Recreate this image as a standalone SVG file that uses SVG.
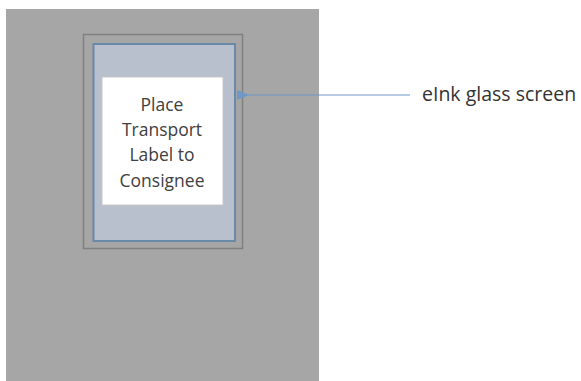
<svg xmlns="http://www.w3.org/2000/svg" width="581" height="381" viewBox="0 0 581 381">
<style>
.lbl{font-family:"Open Sans","Liberation Sans",sans-serif;font-size:17.5px;fill:#404040;text-anchor:middle}
.side{font-family:"Open Sans","Liberation Sans",sans-serif;font-size:19.5px;fill:#333333}
</style>
<defs>
<marker id="ah" viewBox="0 0 12 10" refX="1" refY="5" markerWidth="12" markerHeight="10" markerUnits="userSpaceOnUse" orient="auto">
<path d="M12,0 L0,5 L12,10 z" fill="#6f97c8"/>
</marker>
</defs>
<rect width="581" height="381" fill="#ffffff"/>
<g id="device">
<rect x="6" y="9" width="313" height="380" fill="#a6a6a6"/>
</g>
<g id="frame">
<rect x="83.5" y="34.5" width="159" height="214" fill="#a6a6a6" stroke="#808080" stroke-width="1.5"/>
</g>
<g id="screen">
<rect x="93.5" y="44" width="141.5" height="197" fill="#b8c0cd" stroke="#6a88a8" stroke-width="2"/>
</g>
<g id="label">
<rect x="102" y="77" width="121" height="128" fill="#ffffff" stroke="#c8c8c8" stroke-width="1"/>
<text class="lbl" x="162" y="111">Place</text>
<text class="lbl" x="162" y="136">Transport</text>
<text class="lbl" x="162" y="161">Label to</text>
<text class="lbl" x="162" y="187">Consignee</text>
</g>
<g id="connectors">
<line x1="410" y1="95" x2="248" y2="95" stroke="#6f97c8" stroke-width="1" marker-end="url(#ah)"/>
</g>
<g id="note">
<text class="side" x="422" y="101">eInk glass screen</text>
</g>
</svg>
